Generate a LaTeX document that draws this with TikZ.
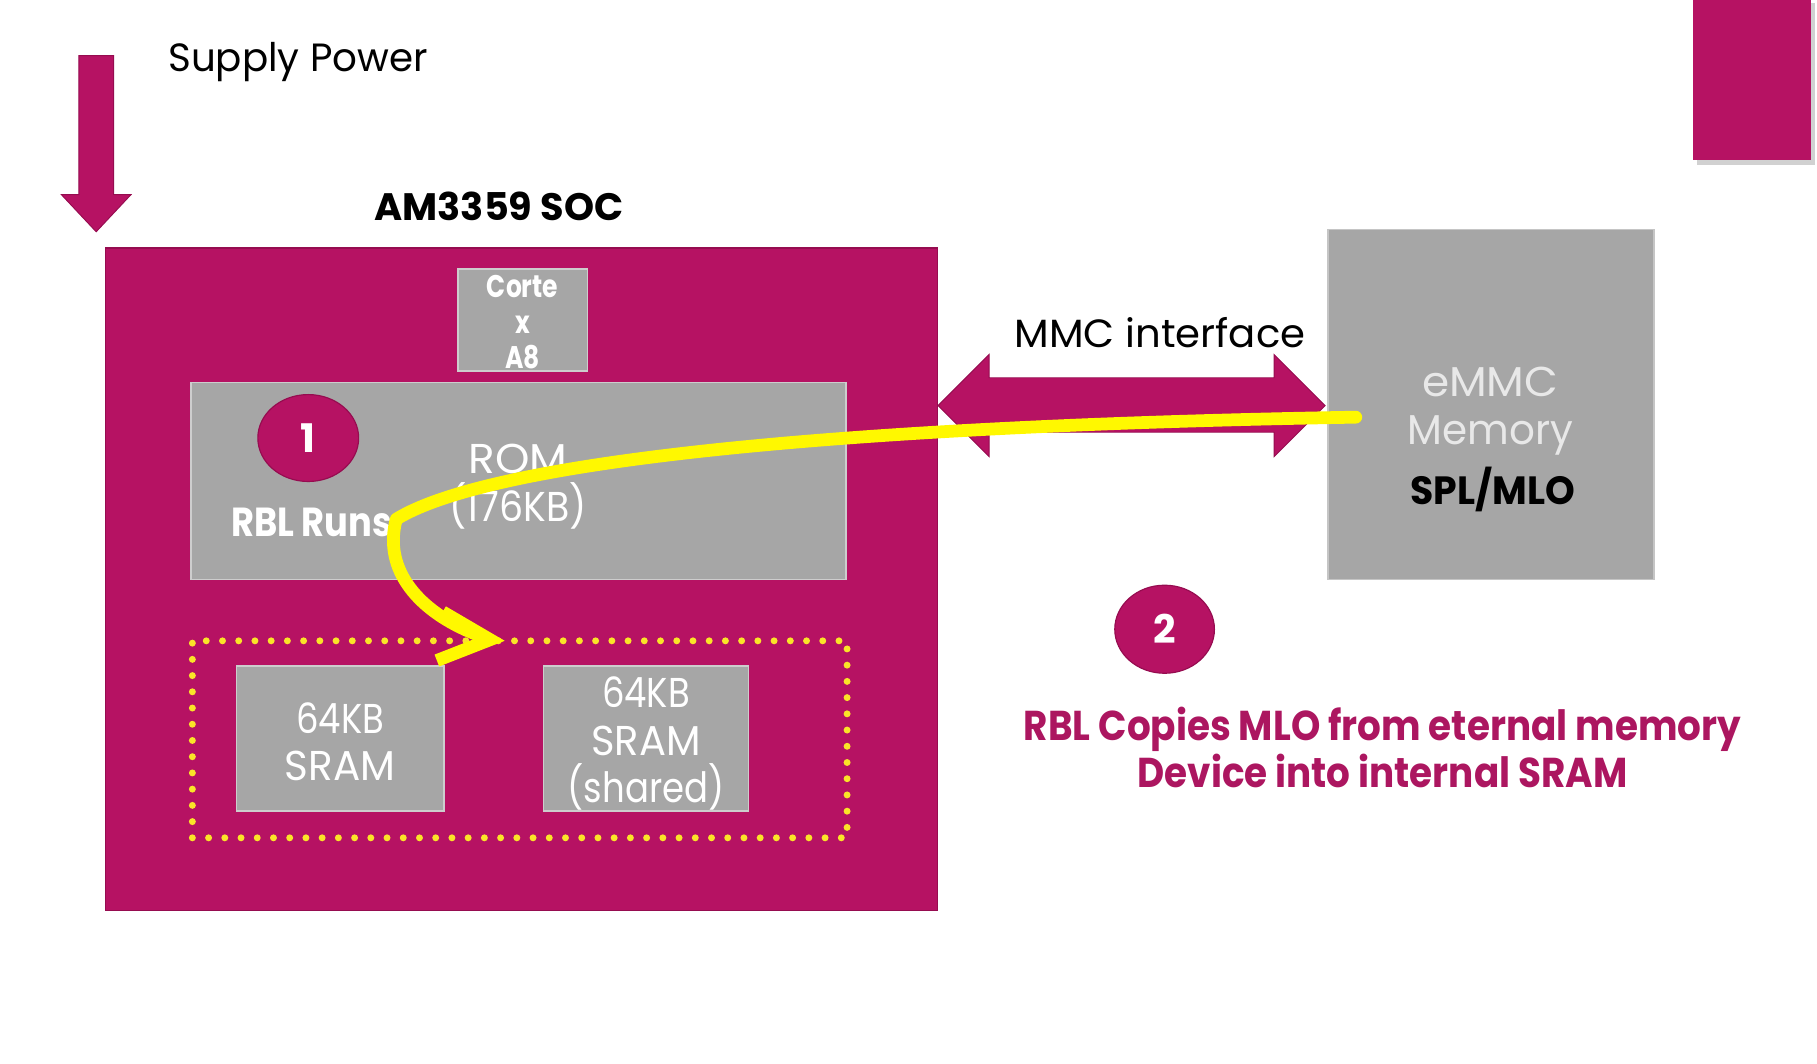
\documentclass[tikz,border=0pt]{standalone}
\usepackage{fontspec}
\setmainfont{Poppins}
\usetikzlibrary{shapes.geometric,calc}
\definecolor{mag}{RGB}{182,18,99}
\definecolor{magdark}{RGB}{150,12,80}
\definecolor{gbox}{RGB}{166,166,166}
\definecolor{gedge}{RGB}{205,205,205}
\definecolor{ylw}{RGB}{255,248,0}
\definecolor{dotylw}{RGB}{250,228,40}
\definecolor{txtmag}{RGB}{172,22,96}
\definecolor{lightw}{RGB}{232,232,232}
\newcommand{\fs}[2]{\fontsize{#1}{#2}\selectfont}
\begin{document}
\begin{tikzpicture}[x=1pt,y=-1pt,
  box/.style={fill=gbox,draw=gedge,line width=1.5pt,inner sep=0pt},
  magbox/.style={fill=mag,draw=magdark,line width=1pt,inner sep=0pt},
  badge/.style={ellipse,fill=mag,draw=magdark,line width=1pt,inner sep=0pt,text=white,font=\bfseries\fs{34}{34}},
  wtxt/.style={text=white,align=center,inner sep=0pt},
  btxt/.style={text=black,inner sep=0pt}]
\useasboundingbox (0,0) rectangle (1568,918);
\fill[white] (0,0) rectangle (1568,918);

% top-right decoration
\fill[black,opacity=0.18] (1464,3) rectangle (1566,142);
\fill[mag] (1461,0) rectangle (1563,138);

% supply power arrow
\fill[mag,draw=magdark,line width=0.8pt] (68,48) -- (98,48) -- (98,168) -- (113,168) -- (83,200) -- (53,168) -- (68,168) -- cycle;
\node[btxt,anchor=base west,font=\fs{34}{40}] (supply) at (145,62) {\scalebox{0.985}[1]{Supply Power}};

% SOC
\node[btxt,anchor=base west,font=\bfseries\fs{33}{40}] (soclabel) at (323,190) {AM3359 SOC};
\node[magbox,minimum width=718pt,minimum height=572pt] (soc) at (450,500) {};

\node[box,minimum width=112pt,minimum height=88pt] (cortex) at (451,276) {};
\node[wtxt,font=\bfseries\fs{27}{31}] at (451,278) {\scalebox{0.8}[1]{Corte}\\\scalebox{0.8}[1]{x}\\\scalebox{0.8}[1]{A8}};

\node[box,minimum width=565pt,minimum height=170pt] (rom) at (447.5,415) {};
\node[wtxt,font=\fs{36}{42}] (romtxt) at (447,420) {\scalebox{1.05}[1]{ROM}\\\scalebox{0.91}[1]{(176KB)}};

\node[badge,minimum width=87pt,minimum height=75pt] (one) at (266,378) {1};
\node[wtxt,font=\bfseries\fs{35}{40}] (rbl) at (269,451) {\scalebox{0.87}[1]{RBL Runs}};

% SRAM group
\node[draw=dotylw,line width=6pt,dash pattern=on 0pt off 14pt,line cap=round,minimum width=565pt,minimum height=170pt,inner sep=0pt] (sramgrp) at (448.5,638) {};
\node[box,minimum width=179pt,minimum height=125pt] (sram1) at (293.5,637.5) {};
\node[wtxt,font=\fs{36}{40}] at (293.5,640) {\scalebox{0.85}[1]{64KB}\\\scalebox{0.97}[1]{SRAM}};
\node[box,minimum width=177pt,minimum height=125pt] (sram2) at (557.5,637.5) {};
\node[wtxt,font=\fs{36}{41}] at (557.5,642) {\scalebox{0.85}[1]{64KB}\\\scalebox{0.96}[1]{SRAM}\\\scalebox{0.85}[1]{(shared)}};

% eMMC
\node[box,draw=gedge!80!gbox,minimum width=281pt,minimum height=302pt] (emmc) at (1286.5,349) {};
\node[text=lightw,align=center,inner sep=0pt,font=\fs{36}{41}] at (1286,355) {\scalebox{1.05}[1]{eMMC}\\\scalebox{0.97}[1]{Memory}};
\node[btxt,font=\bfseries\fs{34}{40}] at (1288,422) {\scalebox{0.96}[1]{SPL/MLO}};

% MMC interface double arrow
\coordinate (mmcy) at (0,350);
\fill[mag,draw=magdark,line width=0.8pt] (soc.east |- mmcy) -- ++(44,-44) -- ++(0,20) -- ++(246,0) -- ++(0,-20) -- ++(44,44) -- ++(-44,44) -- ++(0,-21) -- ++(-246,0) -- ++(0,21) -- cycle;
\node[btxt,font=\fs{34}{40}] (mmc) at (1001,287) {\scalebox{1.02}[1]{MMC interface}};

% yellow copy path
\coordinate (ystart) at (1170,360);
\coordinate (ytip) at (423,552);
\draw[ylw,line width=11pt,line cap=round,line join=round] (ystart) .. controls (700,368) and (420,400) .. (342,448) .. controls (330,492) and (362,528) .. (410,547);
\draw[ylw,line width=11pt,line join=miter] (382,528) -- (ytip) -- (377,570);

% step 2
\node[badge,minimum width=86pt,minimum height=76pt] (two) at (1005,543) {2};
\node[text=txtmag,align=center,inner sep=0pt,font=\bfseries\fs{36}{40}] (note) at (1193,645) {\scalebox{0.895}[1]{RBL Copies MLO from eternal memory}\\\scalebox{0.895}[1]{Device into internal SRAM}};
\end{tikzpicture}
\end{document}
